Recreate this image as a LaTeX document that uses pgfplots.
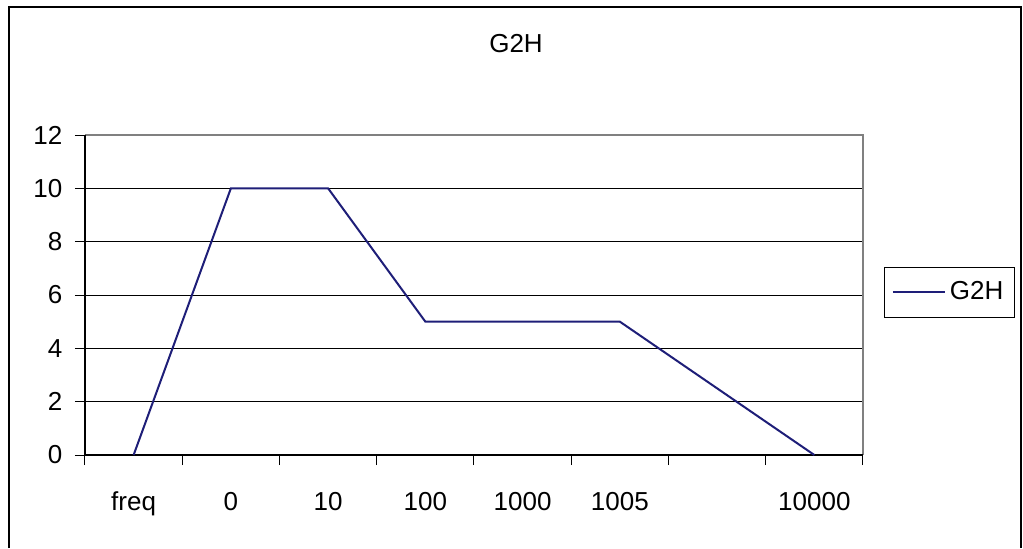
\documentclass[border=0pt]{standalone}
\usepackage{fontspec}
\setmainfont{Liberation Sans}
\usepackage{pgfplots}
\pgfplotsset{compat=1.18}
\definecolor{serieblue}{RGB}{30,30,120}
\definecolor{plotgray}{RGB}{128,128,128}
\begin{document}
\fontsize{13}{15}\selectfont
\begin{tikzpicture}
\useasboundingbox (0,0) rectangle (511.5pt,274pt);
\draw[line width=1pt] (4.5pt,0) -- (4.5pt,270.5pt) -- (510.5pt,270.5pt) -- (510.5pt,0);
\node[font=\fontsize{13}{15}\selectfont] at (258pt,252pt) {G2H};
\begin{axis}[
  at={(42.5pt,46.5pt)}, anchor=south west,
  scale only axis, width=389pt, height=160pt,
  xmin=-0.5, xmax=7.5, ymin=0, ymax=12,
  /pgf/number format/assume math mode=true,
  ytick={0,2,...,12},
  xtick={0,...,7},
  xticklabels={freq,0,10,100,1000,1005,,10000},
  major x tick style={draw=none},
  minor xtick={-0.5,0.5,...,7.5},
  minor tick length=5pt,
  major tick length=5pt,
  tick align=outside,
  tick pos=left,
  tick style={black, line width=0.5pt},
  ymajorgrids,
  grid style={black, line width=0.5pt},
  axis line style={draw=none},
  yticklabel style={xshift=-1.8pt, font=\fontsize{13}{15}\selectfont},
  xticklabel style={anchor=base, yshift=-22.5pt, font=\fontsize{13}{15}\selectfont},
  clip=false,
  legend style={at={(1.1115,0.508)}, anchor=center, draw=black, line width=0.5pt,
    inner xsep=3.5pt, inner ysep=5pt, font=\fontsize{13}{15}\selectfont},
  legend cell align=left,
  legend image code/.code={\draw[#1, line width=1pt] (0pt,0pt) -- (26pt,0pt);},
]
\draw[plotgray, line width=1pt] (rel axis cs:0,1) -- (rel axis cs:1,1) -- (rel axis cs:1,0);
\draw[black, line width=0.75pt] (rel axis cs:0,1) -- (rel axis cs:0,0) -- (rel axis cs:1,0);
\addplot[serieblue, line width=1pt] coordinates {
  (0,0) (1,10) (2,10) (3,5) (4,5) (5,5) (6,2.5) (7,0)
};
\legend{G2H}
\end{axis}
\end{tikzpicture}
\end{document}
